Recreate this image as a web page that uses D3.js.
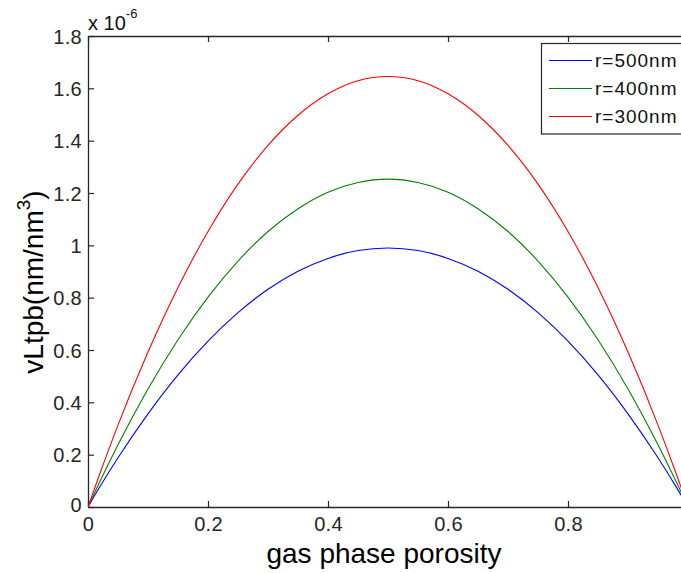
<!DOCTYPE html>
<html><head><meta charset="utf-8">
<script src="https://cdn.jsdelivr.net/npm/d3@7"></script>
<style>body{margin:0;background:#fff}svg{display:block}text{font-family:"Liberation Sans",Arial,Helvetica,sans-serif}</style>
</head><body>
<svg id="chart" width="681" height="573"></svg>
<script>
const xValues = [0,0.02,0.05,0.1,0.15,0.2,0.25,0.3,0.35,0.4,0.45,0.5,0.55,0.6,0.65,0.7,0.75,0.8,0.85,0.9,0.95,0.98,0.99];
const r500 = [0,0.078,0.188,0.356,0.505,0.634,0.743,0.832,0.901,0.950,0.980,0.990,0.980,0.950,0.901,0.832,0.743,0.634,0.505,0.356,0.188,0.078,0.040];
const r400 = [0,0.098,0.238,0.451,0.639,0.802,0.940,1.053,1.140,1.203,1.240,1.253,1.240,1.203,1.140,1.053,0.940,0.802,0.639,0.451,0.238,0.098,0.050];
const r300 = [0,0.129,0.313,0.592,0.839,1.053,1.234,1.382,1.497,1.579,1.629,1.645,1.629,1.579,1.497,1.382,1.234,1.053,0.839,0.592,0.313,0.129,0.065];
const seriesNames = ["r=500nm","r=400nm","r=300nm"];
const seriesColors = ["#0000ff","#008000","#ff0000"];
const xTicks = [0,0.2,0.4,0.6,0.8];
const yTicks = [0,0.2,0.4,0.6,0.8,1,1.2,1.4,1.6,1.8];

const svg = d3.select("#chart");
const L=88, T=36, B=507, R=688;
const x = d3.scaleLinear().domain([0,1]).range([L,R]);
const y = d3.scaleLinear().domain([0,1.8]).range([B,T]);
const tl = 6;

svg.append("defs").append("clipPath").attr("id","clip").append("rect")
  .attr("x",L).attr("y",T).attr("width",R-L).attr("height",B-T);

const fmt = d => String(+d.toFixed(2));
const gx = svg.append("g").attr("transform",`translate(0,${B})`)
  .call(d3.axisBottom(x).tickValues(xTicks).tickSizeInner(-tl).tickSizeOuter(0).tickPadding(10).tickFormat(fmt));
const gxt = svg.append("g").attr("transform",`translate(0,${T})`)
  .call(d3.axisTop(x).tickValues(xTicks).tickSizeInner(-tl).tickSizeOuter(0).tickFormat(""));
const gy = svg.append("g").attr("transform",`translate(${L},0)`)
  .call(d3.axisLeft(y).tickValues(yTicks).tickSizeInner(-tl).tickSizeOuter(0).tickPadding(6).tickFormat(fmt));
const gyr = svg.append("g").attr("transform",`translate(${R},0)`)
  .call(d3.axisRight(y).tickValues(yTicks).tickSizeInner(-tl).tickSizeOuter(0).tickFormat(""));
[gx,gxt,gy,gyr].forEach(g=>{
  g.selectAll("path.domain").attr("stroke","#262626").attr("stroke-width",1.3);
  g.selectAll(".tick line").attr("stroke","#262626").attr("stroke-width",1.2);
  g.selectAll(".tick text").attr("fill","#262626").style("font-size","20px").style("letter-spacing","0.3px")
    .style("font-family",'"Liberation Sans",Arial,sans-serif');
});
gy.selectAll(".tick text").attr("dy","0.36em");
gy.select(".tick text").attr("dy","0.2em");

const line = d3.line().x((d,i)=>x(xValues[i])).y(d=>y(d)).curve(d3.curveMonotoneX);
const plot = svg.append("g").attr("clip-path","url(#clip)");
[r500,r400,r300].forEach((s,i)=>{
  plot.append("path").datum(s).attr("d",line).attr("fill","none")
    .attr("stroke",seriesColors[i]).attr("stroke-width",1.1);
});

const ex = svg.append("text").attr("x",88).attr("y",30).attr("fill","#111").style("font-size","20px");
ex.append("tspan").text("x 10");
ex.append("tspan").attr("dy",-12).style("font-size","13px").text("-6");

svg.append("text").attr("x",(L+R)/2 - 4).attr("y",563).attr("text-anchor","middle")
  .attr("fill","#000").style("font-size","28px").text("gas phase porosity");
const yt = svg.append("text").attr("transform","translate(43,282) rotate(-90)").attr("text-anchor","middle")
  .attr("fill","#000").style("font-size","28px");
yt.append("tspan").text("vLtpb(nm/nm");
yt.append("tspan").attr("dy",-13).style("font-size","19px").text("3");
yt.append("tspan").attr("dy",13).text(")");

const lg = svg.append("g");
lg.append("rect").attr("x",541.5).attr("y",43.5).attr("width",160).attr("height",90.5)
  .attr("fill","#fff").attr("stroke","#262626").attr("stroke-width",1.2);
seriesNames.forEach((n,i)=>{
  const yy = 60.5 + i*28;
  lg.append("line").attr("x1",549).attr("x2",592).attr("y1",yy).attr("y2",yy)
    .attr("stroke",seriesColors[i]).attr("stroke-width",1.2);
  lg.append("text").attr("x",595).attr("y",yy).attr("dy","0.36em").style("letter-spacing","1px")
    .attr("fill","#111").style("font-size","19px").text(n);
});
</script>
</body></html>
